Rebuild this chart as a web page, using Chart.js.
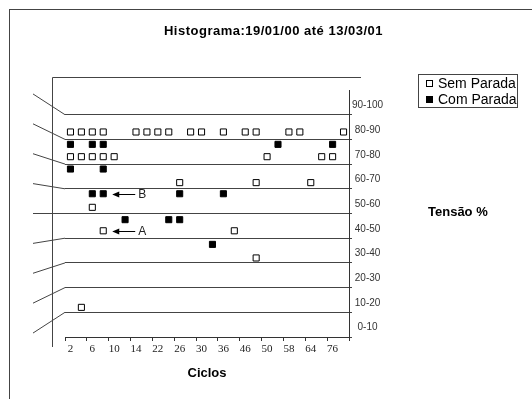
<!DOCTYPE html>
<html>
<head>
<meta charset="utf-8">
<script src="https://cdn.jsdelivr.net/npm/chart.js@4.4.1/dist/chart.umd.min.js"></script>
<style>
  body { margin: 0; background: #fff; }
  #wrap { position: relative; width: 532px; height: 399px; overflow: hidden; font-family: "Liberation Sans", Arial, sans-serif; color: #000; }
  #chart { position: absolute; left: 0; top: 0; }
  #moldura { position: absolute; left: 9px; top: 9px; width: 600px; height: 500px; border-top: 1px solid #444; border-left: 1px solid #444; }
  #titulo { position: absolute; left: 0; top: 23px; width: 547px; text-align: center; font-weight: bold; font-size: 13px; line-height: 16px; letter-spacing: 0.5px; }
  #tensao { position: absolute; left: 428px; top: 204px; font-weight: bold; font-size: 13px; line-height: 16px; }
  #legenda { position: absolute; left: 418px; top: 74px; width: 98px; height: 32px; border: 1px solid #444; font-size: 14px; line-height: 16px; }
  #legenda div { position: relative; padding-left: 19px; height: 16px; }
  #legenda div:first-child { margin-top: 0px; }
  #legenda span { position: absolute; left: 7px; top: 5px; width: 7px; height: 7px; box-sizing: border-box; border: 1px solid #000; }
</style>
</head>
<body>
<div id="wrap">
  <canvas id="chart" width="532" height="399"></canvas>
  <div id="moldura"></div>
  <div id="titulo">Histograma:19/01/00 até 13/03/01</div>
  <div id="legenda">
    <div><span style="background:#fff"></span>Sem Parada</div>
    <div><span style="background:#000"></span>Com Parada</div>
  </div>
  <div id="tensao">Tensão %</div>
</div>
<script>
// categorias do eixo X (ciclos) - so as pares aparecem no eixo
const ciclos = ["2","4","6","8","10","12","14","18","22","24","26","28","30","34","36","42","46","48","50","54","58","62","64","70","76","78"];

// Sem Parada (quadrado vazio)
const semParadaCiclos = ["2","4","6","8","14","18","22","24","28","30","36","46","48","58","62","78",
                         "2","4","6","8","10","50","70","76",
                         "26","48","64",
                         "6",
                         "8","42",
                         "48",
                         "4"];
const semParadaTensao = [83,83,83,83,83,83,83,83,83,83,83,83,83,83,83,83,
                         73,73,73,73,73,73,73,73,
                         62.5,62.5,62.5,
                         52.5,
                         43,43,
                         32,
                         12];

// Com Parada (quadrado cheio)
const comParadaCiclos = ["2","6","8","54","76",
                         "2","8",
                         "6","8","26","36",
                         "12","24","26",
                         "34"];
const comParadaTensao = [78,78,78,78,78,
                         68,68,
                         58,58,58,58,
                         47.5,47.5,47.5,
                         37.5];

// marcacoes A e B
const notasTexto = ["A","B"];
const notasCiclo = ["8","8"];
const notasTensao = [43, 58];

const canvas = document.getElementById("chart");

function pontos(cs, vs) {
  return cs.map((c, i) => ({ x: c, y: vs[i] }));
}

// paredes em perspectiva + setas
const decoracao = {
  id: "decoracao",
  beforeDatasetsDraw(chart) {
    const { ctx, chartArea: a, scales: { y } } = chart;
    ctx.save();
    ctx.strokeStyle = "#444";
    ctx.lineWidth = 1;
    ctx.beginPath();
    ctx.moveTo(a.left - 12.5, a.bottom + 10);
    ctx.lineTo(a.left - 12.5, a.top - 12.5);
    ctx.lineTo(a.right + 12, a.top - 12.5);
    ctx.stroke();
    const meio = y.getPixelForValue(50);
    for (let v = 10; v <= 90; v += 10) {
      const py = y.getPixelForValue(v);
      ctx.beginPath();
      ctx.moveTo(a.left - 32, meio + (py - meio) * 1.21);
      ctx.lineTo(a.left, py);
      ctx.stroke();
    }
    ctx.restore();
  },
  afterDatasetsDraw(chart) {
    const { ctx, scales: { x, y } } = chart;
    ctx.save();
    ctx.strokeStyle = "#000";
    ctx.fillStyle = "#000";
    ctx.lineWidth = 1;
    ctx.font = "12px 'Liberation Sans'";
    ctx.textAlign = "center";
    ctx.textBaseline = "middle";
    notasTexto.forEach((t, i) => {
      const px = x.getPixelForValue(ciclos.indexOf(notasCiclo[i]));
      const py = Math.round(y.getPixelForValue(notasTensao[i])) + 0.5;
      ctx.beginPath();
      ctx.moveTo(px + 15, py);
      ctx.lineTo(px + 32, py);
      ctx.stroke();
      ctx.beginPath();
      ctx.moveTo(px + 9, py);
      ctx.lineTo(px + 16, py - 3);
      ctx.lineTo(px + 16, py + 3);
      ctx.closePath();
      ctx.fill();
      ctx.fillStyle = "#222";
      ctx.fillText(t, px + 39, py);
      ctx.fillStyle = "#000";
    });
    ctx.restore();
  }
};

const data = {
  labels: ciclos,
  datasets: [
    {
      label: "Sem Parada",
      data: pontos(semParadaCiclos, semParadaTensao),
      showLine: false,
      pointStyle: "rect",
      pointRadius: 4.3,
      pointBackgroundColor: "#fff",
      pointBorderColor: "#000",
      pointBorderWidth: 1
    },
    {
      label: "Com Parada",
      data: pontos(comParadaCiclos, comParadaTensao),
      showLine: false,
      pointStyle: "rect",
      pointRadius: 4.3,
      pointBackgroundColor: "#000",
      pointBorderColor: "#000",
      pointBorderWidth: 1
    }
  ]
};

const config = {
  type: "line",
  data: data,
  options: {
    responsive: false,
    animation: false,
    layout: { padding: { left: 65, top: 90, right: 143, bottom: 12 } },
    plugins: {
      legend: { display: false },
      tooltip: { enabled: false }
    },
    scales: {
      x: {
        type: "category",
        offset: true,
        grid: {
          offset: true,
          drawOnChartArea: false,
          tickLength: 4,
          tickColor: (c) => (c.index === undefined || c.index % 2 === 0) ? "#333" : "transparent"
        },
        border: { color: "#333" },
        ticks: {
          autoSkip: false,
          maxRotation: 0,
          minRotation: 0,
          padding: 2,
          color: "#222",
          font: { family: "Liberation Serif", size: 11 },
          callback: function (v, i) { return i % 2 === 0 ? this.getLabelForValue(v) : ""; }
        },
        title: {
          display: true,
          text: "Ciclos",
          color: "#000",
          font: { family: "Liberation Sans", size: 13, weight: "bold" },
          padding: { top: 0, bottom: 6 }
        },
        afterFit: (s) => { s.height = 50; }
      },
      y: {
        position: "right",
        min: 0,
        max: 100,
        grid: {
          tickLength: 3,
          color: (c) => (c.tick && c.tick.value % 10 === 0 && c.tick.value < 100) ? "#444" : "transparent"
        },
        border: { color: "#333" },
        ticks: {
          stepSize: 5,
          autoSkip: false,
          padding: 0,
          crossAlign: "center",
          labelOffset: 3,
          color: "#333",
          font: { family: "Liberation Sans", size: 10 },
          callback: (v) => v % 10 === 5 ? (v - 5) + "-" + (v + 5) : ""
        },
        afterFit: (s) => { s.width = 40; }
      }
    }
  },
  plugins: [decoracao]
};

const chart = new Chart(canvas, config);
</script>
</body>
</html>
